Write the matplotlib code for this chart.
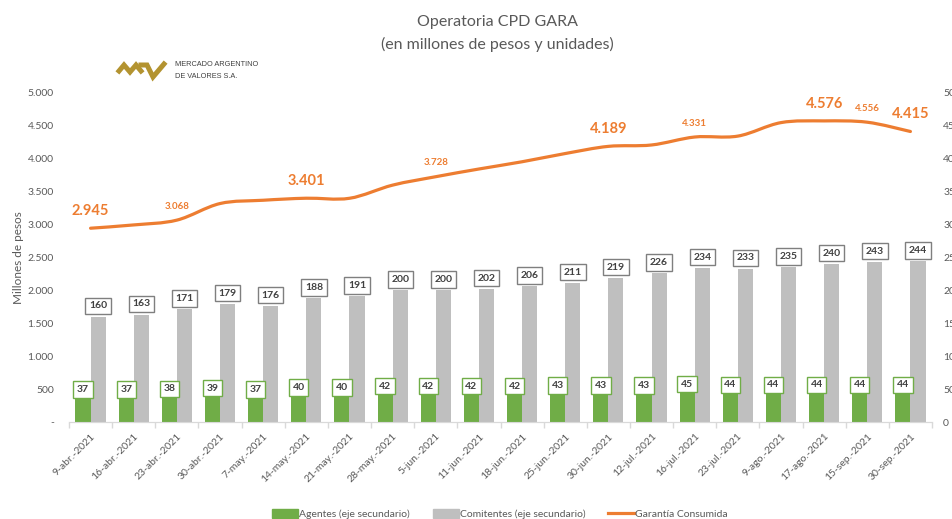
import matplotlib
matplotlib.use("Agg")
import matplotlib.pyplot as plt
from matplotlib.path import Path
from matplotlib.patches import PathPatch, Patch
from matplotlib.lines import Line2D

plt.rcParams['font.family'] = ['Lato', 'DejaVu Sans']

# ---- datos ----
fechas = ['9-abr.-2021', '16-abr.-2021', '23-abr.-2021', '30-abr.-2021', '7-may.-2021',
          '14-may.-2021', '21-may.-2021', '28-may.-2021', '5-jun.-2021', '11-jun.-2021',
          '18-jun.-2021', '25-jun.-2021', '30-jun.-2021', '12-jul.-2021', '16-jul.-2021',
          '23-jul.-2021', '9-ago.-2021', '17-ago.-2021', '15-sep.-2021', '30-sep.-2021']
agentes = [37, 37, 38, 39, 37, 40, 40, 42, 42, 42, 42, 43, 43, 43, 45, 44, 44, 44, 44, 44]
comitentes = [160, 163, 171, 179, 176, 188, 191, 200, 200, 202, 206, 211, 219, 226, 234,
              233, 235, 240, 243, 244]
garantia = [2945, 2995, 3068, 3320, 3370, 3401, 3400, 3600, 3728, 3845, 3955, 4080,
            4189, 4210, 4331, 4345, 4550, 4576, 4556, 4415]
# puntos de la linea que llevan etiqueta
etiq_grandes = [0, 5, 12, 17, 19]
etiq_chicas = [2, 8, 14, 18]

VERDE = '#70AD47'
GRIS = '#BFBFBF'
NARANJA = '#ED7D31'
TEXTO = '#595959'

fig = plt.figure(figsize=(9.52, 5.19), dpi=100)
ax = fig.add_axes([69 / 952, 97 / 519, 863 / 952, 329 / 519])
ax2 = ax.twinx()

n = len(fechas)
x = list(range(n))
w = 0.35

# barras (eje secundario)
ax2.bar([i - w / 2 for i in x], agentes, width=w, color=VERDE, zorder=2)
ax2.bar([i + w / 2 for i in x], comitentes, width=w, color=GRIS, zorder=2)

for i in x:
    ax2.annotate(str(agentes[i]), (i - w / 2, agentes[i]), xytext=(0, 2.6),
                 textcoords='offset points', ha='center', va='bottom', fontsize=7.5,
                 fontweight='bold', color='#404040', zorder=5,
                 bbox=dict(boxstyle='square,pad=0.35', fc='white', ec=VERDE, lw=1))
    ax2.annotate(str(comitentes[i]), (i + w / 2, comitentes[i]), xytext=(0, 4.6),
                 textcoords='offset points', ha='center', va='bottom', fontsize=7.5,
                 fontweight='bold', color='#404040', zorder=5,
                 bbox=dict(boxstyle='square,pad=0.35', fc='white', ec='#7F7F7F', lw=1))

# linea suavizada (estilo Excel) a partir de los puntos
pts = list(zip(x, garantia))
verts = [pts[0]]
codes = [Path.MOVETO]
for k in range(n - 1):
    p0 = pts[k - 1] if k > 0 else pts[k]
    p1 = pts[k]
    p2 = pts[k + 1]
    p3 = pts[k + 2] if k + 2 < n else pts[k + 1]
    c1 = (p1[0] + (p2[0] - p0[0]) / 6, p1[1] + (p2[1] - p0[1]) / 6)
    c2 = (p2[0] - (p3[0] - p1[0]) / 6, p2[1] - (p3[1] - p1[1]) / 6)
    verts += [c1, c2, p2]
    codes += [Path.CURVE4] * 3
ax.add_patch(PathPatch(Path(verts, codes), fc='none', ec=NARANJA, lw=2.3,
                       capstyle='round', zorder=3))

for i in etiq_grandes:
    ax.annotate(f"{garantia[i]:,}".replace(',', '.'), (i, garantia[i]), xytext=(0, 12.5),
                textcoords='offset points', ha='center', va='center', fontsize=10.5,
                fontweight='bold', color=NARANJA)
for i in etiq_chicas:
    ax.annotate(f"{garantia[i]:,}".replace(',', '.'), (i, garantia[i]), xytext=(0, 10),
                textcoords='offset points', ha='center', va='center', fontsize=7,
                fontweight='bold', color=NARANJA)

# ejes
ax.set_xlim(-0.5, n - 0.5)
ax.set_ylim(0, 5000)
ax2.set_ylim(0, 500)
ax.set_yticks(range(0, 5001, 500))
ax.set_yticklabels(['-'] + [f"{v:,}".replace(',', '.') for v in range(500, 5001, 500)])
ax2.set_yticks(range(0, 501, 50))
ax.tick_params(axis='y', length=0, pad=11, labelsize=7.5, labelcolor=TEXTO)
ax2.tick_params(axis='y', length=0, pad=8, labelsize=7.5, labelcolor=TEXTO)

ax.set_xticks(x)
ax.set_xticklabels(fechas, rotation=45, ha='right', va='top', rotation_mode='anchor',
                   fontsize=7.5, color=TEXTO)
ax.tick_params(axis='x', which='major', length=0, pad=7)
ax.set_xticks([i - 0.5 for i in range(n + 1)], minor=True)
ax.tick_params(axis='x', which='minor', length=4, color='#D9D9D9', width=1)

for a in (ax, ax2):
    for s in ['top', 'left', 'right']:
        a.spines[s].set_visible(False)
    a.spines['bottom'].set_color('#D9D9D9')

ax.set_ylabel('Millones de pesos', fontsize=8.5, color=TEXTO)
ax.yaxis.set_label_coords(-45 / 863, 0.5)

# titulos
fig.text(497 / 952, 1 - 22 / 519, 'Operatoria CPD GARA', ha='center', va='center',
         fontsize=11.5, color=TEXTO)
fig.text(497 / 952, 1 - 44 / 519, '(en millones de pesos y unidades)', ha='center',
         va='center', fontsize=11.5, color=TEXTO)

# logo MAV
oro = '#B39330'
trazo1 = [(119, 71), (124, 65), (130, 72), (136, 65), (141, 71)]
trazo2 = [(141, 65), (147, 65), (153, 77), (164, 64)]
for tr in (trazo1, trazo2):
    fig.lines.append(Line2D([p[0] / 952 for p in tr], [1 - p[1] / 519 for p in tr],
                            color=oro, lw=3.6, solid_joinstyle='miter',
                            transform=fig.transFigure, figure=fig))
fig.text(175 / 952, 1 - 65 / 519, 'MERCADO ARGENTINO', fontsize=5.3, color='#404040',
         va='center', family='Liberation Sans')
fig.text(175 / 952, 1 - 76 / 519, 'DE VALORES S.A.', fontsize=5.3, color='#404040',
         va='center', family='Liberation Sans')

# leyenda
handles = [Patch(color=VERDE), Patch(color=GRIS), Line2D([], [], color=NARANJA, lw=2.3)]
labels = ['Agentes (eje secundario)', 'Comitentes (eje secundario)', 'Garantía Consumida']
fig.legend(handles, labels, loc='center', bbox_to_anchor=(500 / 952, 5 / 519), ncol=3,
           frameon=False, fontsize=7.5, labelcolor=TEXTO, handlelength=2.5,
           handleheight=0.9, handletextpad=0.1, columnspacing=2.2)

fig.savefig('out.png', dpi=100)
